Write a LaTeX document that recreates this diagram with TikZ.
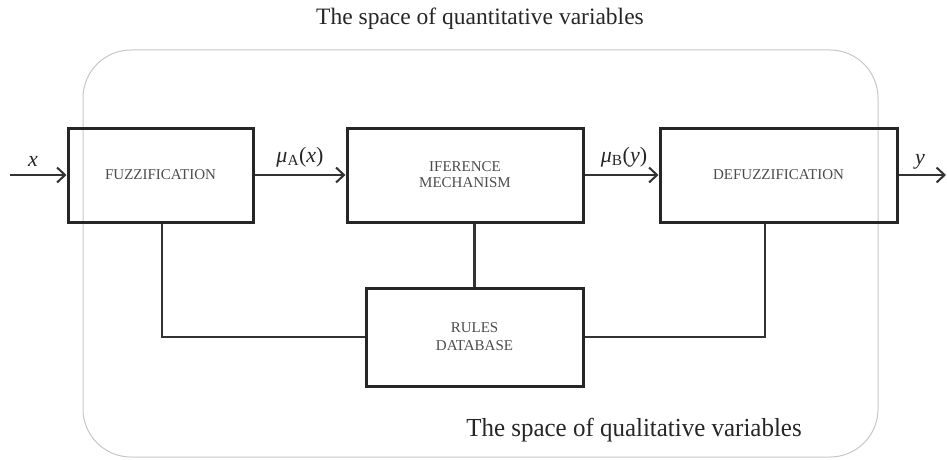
\documentclass[tikz,border=0pt]{standalone}
\usepackage{fontspec}
\setmainfont{Liberation Serif}
\usetikzlibrary{arrows.meta}
\begin{document}
\begin{tikzpicture}[x=1pt,y=-1pt,
  blockbox/.style={draw=black!85, line width=3pt, minimum height=94pt, inner sep=0pt, align=center, font=\fontsize{15}{16}\selectfont, text=black!70},
  link/.style={draw=black!80, line width=2.2pt},
  flow/.style={link, -{Straight Barb[length=8pt,width=15pt,line width=2pt]}},
  sig/.style={font=\fontsize{22}{24}\selectfont, inner sep=0pt, text=black!85},
  space/.style={draw=black!22, line width=1pt, rounded corners=48pt}]
\useasboundingbox (0,0) rectangle (947,460);
% space of qualitative variables
\draw[space] (83,50) rectangle (878,457);
\node[font=\fontsize{23.5}{26}\selectfont, text=black!85] (top) at (480,19) {The space of quantitative variables};
\node[font=\fontsize{26}{28}\selectfont, text=black!85, xscale=0.96] (bottom) at (634,430) {The space of qualitative variables};
% blocks
\node[blockbox, minimum width=185pt] (fuzz) at (160.5,175) {FUZZIFICATION};
\node[blockbox, minimum width=236pt] (inf) at (465,175) {IFERENCE\\MECHANISM};
\node[blockbox, minimum width=237pt] (defuzz) at (778.5,175) {DEFUZZIFICATION};
\node[blockbox, minimum width=217pt, minimum height=98pt, font=\fontsize{15}{18}\selectfont] (rules) at (474.5,337) {RULES\\DATABASE};
% input / output
\coordinate (xin) at (10,175);
\coordinate (yout) at (946,175);
\draw[flow] (xin) -- (fuzz.west);
\draw[flow] (fuzz.east) -- (inf.west);
\draw[flow] (inf.east) -- (defuzz.west);
\draw[flow] (defuzz.east) -- (yout);
\node[sig] (xl) at (33,161) {\itshape x};
\node[sig] (mua) at (300,157) {\itshape μ\textsubscript{\upshape A}\upshape(\itshape x\upshape)};
\node[sig] (mub) at (624,157) {\itshape μ\textsubscript{\upshape B}\upshape(\itshape y\upshape)};
\node[sig] (yl) at (920,162) {\itshape y};
% links to rules database
\draw[link] (fuzz.south -| 162,0) |- (rules.west);
\draw[link] (inf.south -| rules.north) -- (rules.north);
\draw[link] (defuzz.south -| 765,0) |- (rules.east);
\end{tikzpicture}
\end{document}
